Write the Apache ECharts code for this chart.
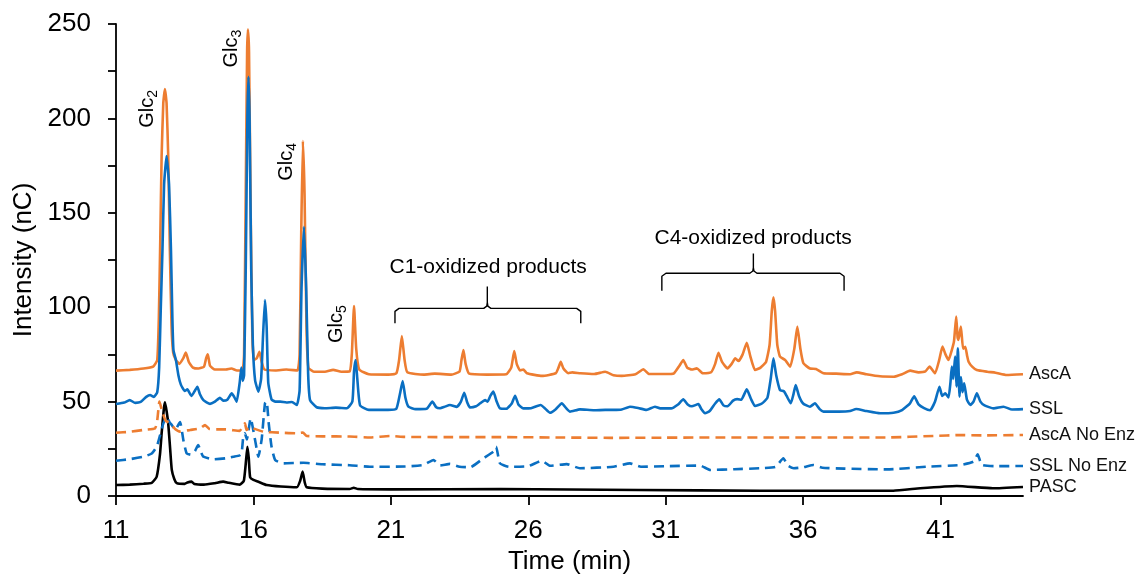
<!DOCTYPE html>
<html>
<head>
<meta charset="utf-8">
<script src="https://cdn.jsdelivr.net/npm/echarts@6/dist/echarts.min.js"></script>
<style>
html,body{margin:0;padding:0;background:#fff;}
#chart{width:1142px;height:576px;}
</style>
</head>
<body>
<div id="chart"></div>
<script>
// ---- Data (time in min, intensity in nC) ----
var xTicks = [11, 16, 21, 26, 31, 36, 41];
var seriesNames = ['AscA', 'SSL', 'AscA No Enz', 'SSL No Enz', 'PASC'];

var ascA = [
[11.0,66.4],[11.5,66.8],[12.0,67.5],[12.35,68.5],[12.5,72],[12.56,95],[12.61,135],[12.66,180],[12.72,208],[12.78,215.6],[12.84,208],[12.9,180],[12.96,130],[13.02,90],[13.08,76],
[13.18,72],[13.3,70],[13.45,73],[13.54,76],[13.65,71],[13.8,68],[14.0,67.5],[14.2,68.5],[14.28,73],[14.34,75],[14.42,69],[14.6,67],[15.0,67],[15.2,67.5],[15.4,66.5],[15.6,66.5],
[15.66,75],[15.72,160],[15.77,235],[15.8,247],[15.84,235],[15.9,150],[15.96,85],[16.02,72],[16.12,73],[16.22,76.4],[16.3,71],[16.4,67],[16.8,66.5],[17.2,67],[17.6,66.5],
[17.68,75],[17.74,140],[17.8,188],[17.86,160],[17.93,90],[18.0,68],[18.2,65.8],[18.6,65.8],[18.9,66.8],[19.2,65.8],[19.5,66],[19.58,75],[19.66,100.6],[19.74,78],[19.85,67],
[20.2,64.5],[20.9,64.3],[21.2,65],[21.3,72],[21.4,84.7],[21.5,72],[21.6,65.5],[22.2,64.3],[22.6,64.8],[23.2,64.3],[23.5,66],[23.57,72],[23.64,77.3],[23.72,70],[23.85,64.8],
[24.5,64.3],[25.2,64.5],[25.38,68],[25.49,76.8],[25.58,70],[25.7,66.5],[25.82,67],[25.95,65],[26.5,63.6],[27.0,65],[27.1,68],[27.18,71.1],[27.28,67.5],[27.45,65],[27.6,65.5],
[27.9,65],[28.4,64.6],[28.8,65.8],[29.1,64],[29.4,63.6],[29.9,64.5],[30.19,67.1],[30.4,64.6],[31.0,64.6],[31.3,65],[31.5,69],[31.64,72],[31.78,68],[31.95,67],[32.13,67.6],
[32.35,65],[32.65,65.5],[32.8,70],[32.92,75.9],[33.05,71],[33.25,67.6],[33.4,70],[33.53,72.9],[33.65,71.5],[33.8,75],[33.95,81.2],[34.08,74],[34.25,66.7],[34.45,68],[34.65,71],
[34.78,80],[34.86,98],[34.92,105.2],[34.98,98],[35.06,80],[35.16,73.8],[35.35,72],[35.53,68.5],[35.68,78],[35.79,89.7],[35.9,78],[36.01,70.3],[36.25,67.5],[36.47,67.3],[36.74,65],
[37.2,64.8],[37.71,64.5],[37.95,65.5],[38.3,64.5],[38.8,63.4],[39.29,63.2],[39.6,64.5],[39.89,66.4],[40.2,65.5],[40.45,66],[40.6,68.5],[40.8,65],[40.95,72],[41.07,79.1],[41.18,75],
[41.29,72],[41.41,77.3],[41.49,82],[41.57,95],[41.62,84],[41.65,82.6],[41.74,89.7],[41.82,78],[41.9,79],[41.97,74],[42.02,71.1],[42.15,68.5],[42.32,66.7],[42.7,65.8],[43.0,65.3],
[43.41,64.1],[44.0,64.5]
];

var ssl = [
[11.0,48.7],[11.3,49.5],[11.5,50.8],[11.7,49.3],[11.9,49.8],[12.1,52.5],[12.24,53.5],[12.38,52.5],[12.5,55],[12.57,68],[12.63,100],[12.69,130],[12.75,165],[12.84,180],[12.93,165],
[13.0,130],[13.05,95],[13.09,77.3],[13.18,72],[13.27,64],[13.36,59],[13.5,55.6],[13.6,56.5],[13.66,55],[13.75,53],[13.88,56],[13.96,57.9],[14.05,54],[14.18,50.8],[14.42,48.8],
[14.6,50],[14.78,52],[14.9,50.5],[15.05,51],[15.21,54.4],[15.3,52.5],[15.39,50],[15.5,60],[15.56,68],[15.61,61],[15.66,64],[15.72,120],[15.78,200],[15.82,222],[15.86,200],
[15.92,120],[15.98,80],[16.06,61.4],[16.18,55.3],[16.28,62],[16.35,85],[16.42,103.8],[16.48,90],[16.54,60],[16.66,51.1],[16.8,50],[16.97,50],[17.2,49.5],[17.4,49.8],[17.58,48.2],
[17.68,56],[17.75,110],[17.84,142.6],[17.92,110],[17.99,65],[18.06,50.8],[18.3,47],[18.6,46.5],[19.0,46.8],[19.4,46.5],[19.6,50],[19.66,66],[19.72,72],[19.78,62],[19.88,48],
[20.2,45.6],[20.9,45.6],[21.2,46.2],[21.33,54],[21.43,60.9],[21.53,52],[21.64,47.3],[21.9,46.0],[22.3,46.2],[22.51,50],[22.65,47],[22.79,46.5],[22.95,47.2],[23.15,48.2],[23.4,47.2],
[23.55,50],[23.67,54.7],[23.78,49.5],[23.88,46.9],[24.1,47.5],[24.25,49.1],[24.43,50.8],[24.52,50],[24.62,53],[24.73,55.3],[24.85,50],[24.97,46.4],[25.2,46.2],[25.4,49],[25.52,53.1],
[25.64,48.5],[25.82,46.4],[26.1,46.5],[26.45,48.2],[26.6,46.5],[26.79,44.1],[27.0,46],[27.22,49.1],[27.38,46.5],[27.52,44.7],[27.88,45.9],[28.4,45.4],[28.8,45.6],[29.1,45.6],[29.4,45.8],
[29.7,47.3],[30.0,46.6],[30.3,45.6],[30.61,47.3],[30.8,46.4],[31.2,46.4],[31.45,48.5],[31.64,51.2],[31.8,48.5],[31.95,47.5],[32.19,48.7],[32.3,46],[32.43,43.8],[32.6,45],[32.8,49],
[32.95,51.2],[33.1,48],[33.25,47.5],[33.45,50.5],[33.6,51.3],[33.75,51],[33.95,56.5],[34.1,51.5],[34.25,47.7],[34.5,49],[34.7,52],[34.82,62],[34.92,72.9],[35.02,64],[35.16,56.1],
[35.3,55.5],[35.4,53],[35.55,49.1],[35.65,54],[35.73,58.8],[35.85,53],[36.0,49],[36.25,47.3],[36.43,49.1],[36.6,46],[36.74,44.7],[37.3,44.7],[37.71,45],[37.93,46.1],[38.3,45],
[38.8,43.8],[39.29,44.1],[39.6,45.5],[39.89,49.1],[40.04,52.8],[40.2,48.5],[40.4,46.5],[40.62,45.4],[40.8,50],[40.96,57.9],[41.06,53],[41.17,54.4],[41.29,52.2],[41.36,60],[41.41,68.5],
[41.46,62],[41.53,73.8],[41.58,58],[41.63,78.2],[41.69,52.6],[41.74,63],[41.8,55],[41.86,59.7],[41.96,51],[42.08,48.2],[42.2,50],[42.32,54.4],[42.45,50],[42.6,48],[42.93,46.4],
[43.29,47.3],[43.6,45.8],[44.0,46]
];

var ascANoEnz = [
[11.0,33.5],[11.5,34],[12.0,35],[12.42,35.8],[12.5,40],[12.58,50],[12.66,46],[12.8,40],[12.97,38.5],[13.15,35.5],[13.33,34.1],[13.7,35],[14.06,35.8],[14.24,37.6],[14.4,35.5],
[14.66,35.3],[15.0,35.3],[15.27,34.8],[15.5,34.5],[15.6,36.5],[15.69,38.5],[15.75,35],[15.85,36.5],[16.0,35.8],[16.36,34.1],[17.0,33.5],[17.58,33.2],[17.8,33.6],[17.94,31.8],
[18.5,31.6],[19.5,31.5],[20.24,31],[20.97,31.8],[21.5,31.3],[23,31.2],[25,31.2],[27,31],[29,30.8],[31,30.9],[33,31],[35,31],[37,31],[39,31],[40.74,31.8],[41.71,32.3],[42.5,32.1],[44.0,32.3]
];

var sslNoEnz = [
[11.0,18.7],[11.5,19.5],[12.0,20.8],[12.3,22.5],[12.48,26.1],[12.6,32],[12.72,38.3],[12.84,42],[12.95,39],[13.03,37.6],[13.15,35],[13.33,39.2],[13.45,29.7],[13.57,22.6],[13.75,21.8],
[13.88,24],[13.99,27],[14.1,23],[14.18,20.8],[14.54,19.4],[15.0,20],[15.27,20.8],[15.5,21.5],[15.57,22.6],[15.63,31.4],[15.69,33.2],[15.76,30],[15.9,41.1],[16.06,29.7],[16.18,20.8],
[16.3,30],[16.42,49],[16.48,50],[16.56,38],[16.66,26.1],[16.79,19.1],[17.09,17.3],[17.82,17.6],[18.5,16.8],[19.5,16.3],[20.24,15.5],[21.5,15.6],[22.18,16.4],[22.55,19.1],[22.8,16.2],
[23.15,17],[23.5,15.5],[23.88,15.2],[24.37,20],[24.73,23.5],[24.83,26.1],[24.97,17.3],[25.3,15.5],[26.0,15.8],[26.49,18.7],[26.8,16],[27.4,16.9],[27.88,14.7],[29.1,15.5],[29.7,17.3],
[30.1,15.5],[31.0,15.8],[32.25,16.1],[32.62,13.8],[33.5,14.2],[34.43,14.7],[35.0,15.5],[35.28,20],[35.45,16],[35.66,14.7],[36.0,15.2],[36.38,16.4],[36.7,15],[37.5,14.5],[39.05,14.1],
[40.5,15.5],[41.71,16.4],[42.2,18.2],[42.35,22.1],[42.5,16.5],[43.0,15.8],[44.0,15.9]
];

var pasc = [
[11.0,5.8],[11.5,6.0],[12.0,6.5],[12.3,7],[12.48,10.2],[12.6,22],[12.66,33.2],[12.74,46],[12.78,49.6],[12.84,45],[12.9,38.5],[12.97,25],[13.03,13.8],[13.12,9],[13.21,6.8],
[13.5,6.4],[13.6,7.2],[13.75,7.6],[13.85,6.4],[14.2,6.0],[14.6,6.8],[14.9,7.6],[15.1,7],[15.5,6],[15.65,8],[15.72,17],[15.78,26.1],[15.83,20],[15.88,9.9],[16.0,8.5],[16.2,7.4],
[16.48,5.8],[17.0,5],[17.58,4.6],[17.7,8],[17.79,12.9],[17.87,7],[17.94,4.6],[18.5,3.9],[19.5,3.7],[19.65,4.4],[19.8,3.7],[21,3.5],[25,3.7],[30,3.2],[34.43,2.8],[39.28,2.8],
[40.26,4.1],[41.59,5.3],[42.9,4.1],[44.0,4.8]
];

// bracket outlines (time, intensity)
var bracketC1 = [[21.15,91.5],[21.15,97.8],[21.3,99.4],[24.38,99.4],[24.49,100.6],[24.51,102.5],[24.51,110.9],[24.51,102.5],[24.53,100.6],[24.64,99.4],[27.76,99.4],[27.91,97.8],[27.91,91.5]];
var bracketC4 = [[30.86,108.7],[30.86,116.4],[31.01,118],[34.06,118],[34.17,119.2],[34.19,121],[34.19,128.5],[34.19,121],[34.21,119.2],[34.32,118],[37.34,118],[37.49,116.4],[37.49,108.7]];

// annotation anchors: [time, intensity, label, subscript]
var glcLabels = [[12.14,205,'Glc','2'],[15.2,237,'Glc','3'],[17.2,177,'Glc','4'],[19.02,91,'Glc','5']];
var groupLabels = [[24.54,121,'C1-oxidized products'],[34.18,136.5,'C4-oxidized products']];

var ORANGE = '#ED7D31', BLUE = '#0A6FC2', BLACK = '#000000';
var FONT = 'Liberation Sans, Arial, sans-serif';

function lineSeries(name, data, color, dashed) {
  return {
    name: name, type: 'line', data: data, symbol: 'none', smooth: 0.15,
    lineStyle: {color: color, width: 2.6, type: dashed ? [10, 6] : 'solid'},
    endLabel: {show: true, formatter: name, color: '#111', fontSize: 18, fontFamily: FONT, distance: 6},
    silent: true, animation: false, z: 3
  };
}

var chart = echarts.init(document.getElementById('chart'), null, {renderer: 'canvas'});
var option = {
  backgroundColor: '#ffffff',
  animation: false,
  grid: {left: 116, right: 119, top: 24, bottom: 80, containLabel: false, outerBoundsMode: 'none'},
  xAxis: {
    type: 'value', min: 11, max: 44,
    name: 'Time (min)', nameLocation: 'middle', nameGap: 43,
    nameTextStyle: {fontSize: 26, color: '#000', fontFamily: FONT},
    axisLine: {show: true, onZero: false, lineStyle: {color: '#000', width: 1.8}},
    axisTick: {show: true, length: 9, customValues: xTicks, lineStyle: {color: '#000', width: 1.8}},
    axisLabel: {customValues: xTicks, fontSize: 26, color: '#000', margin: 22, fontFamily: FONT},
    splitLine: {show: false}
  },
  yAxis: {
    type: 'value', min: 0, max: 250, interval: 50,
    name: 'Intensity (nC)', nameLocation: 'middle', nameGap: 76, nameRotate: 90,
    nameTextStyle: {fontSize: 26, color: '#000', fontFamily: FONT},
    axisLine: {show: true, lineStyle: {color: '#000', width: 1.8}},
    axisTick: {show: true, length: 8, lineStyle: {color: '#000', width: 1.8}},
    minorTick: {show: true, splitNumber: 2, length: 8, lineStyle: {color: '#000', width: 1.8}},
    axisLabel: {fontSize: 26, color: '#000', margin: 25, fontFamily: FONT},
    splitLine: {show: false}, minorSplitLine: {show: false}
  },
  series: [
    lineSeries(seriesNames[4], pasc, BLACK, false),
    lineSeries(seriesNames[3], sslNoEnz, BLUE, true),
    lineSeries(seriesNames[2], ascANoEnz, ORANGE, true),
    lineSeries(seriesNames[0], ascA, ORANGE, false),
    lineSeries(seriesNames[1], ssl, BLUE, false),
    {type: 'line', data: bracketC1, symbol: 'none', lineStyle: {color: '#000', width: 1.4}, silent: true, z: 4},
    {type: 'line', data: bracketC4, symbol: 'none', lineStyle: {color: '#000', width: 1.4}, silent: true, z: 4},
    {
      type: 'scatter', symbolSize: 0, silent: true, z: 5, itemStyle: {opacity: 1},
      data: glcLabels.map(function (d) { return {value: [d[0], d[1]], t: d[2], s: d[3]}; }),
      label: {
        show: true, position: 'inside', rotate: 90, color: '#000', opacity: 1, textBorderWidth: 0,
        formatter: function (p) { return '{g|' + p.data.t + '}{s|' + p.data.s + '}'; },
        rich: {
          g: {fontSize: 20, lineHeight: 26, fontFamily: FONT, color: '#000', textBorderWidth: 0},
          s: {fontSize: 14, lineHeight: 14, verticalAlign: 'bottom', fontFamily: FONT, color: '#000', textBorderWidth: 0}
        }
      }
    },
    {
      type: 'scatter', symbolSize: 0, silent: true, z: 5, itemStyle: {opacity: 1},
      data: groupLabels.map(function (d) { return {value: [d[0], d[1]], t: d[2]}; }),
      label: {
        show: true, position: 'inside', color: '#000', opacity: 1, textBorderWidth: 0, fontSize: 21, fontFamily: FONT,
        formatter: function (p) { return p.data.t; }
      }
    }
  ]
};
chart.setOption(option);
</script>
</body>
</html>
